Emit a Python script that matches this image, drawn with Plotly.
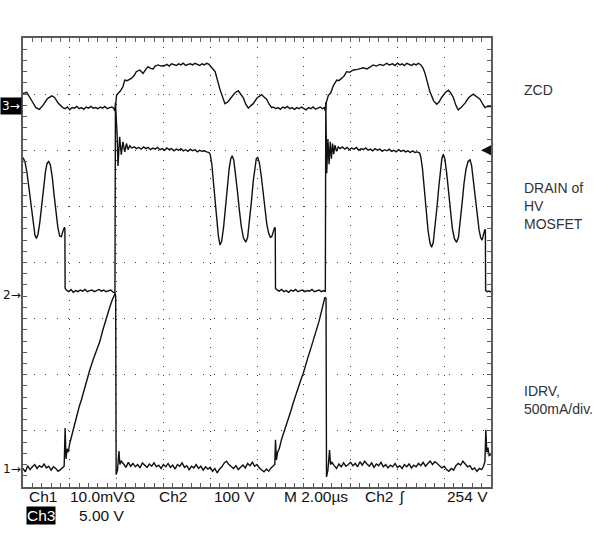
import plotly.graph_objects as go

# ---------------- data (time in microseconds, amplitude in screen divisions) -------------
zcd = [
    (0.00, 7.01), (0.16, 7.03), (0.35, 6.90), (0.55, 6.76), (0.70, 6.73), (0.85, 6.80), (1.05, 6.92),
    (1.23, 6.97), (1.35, 6.94), (1.50, 6.84), (1.70, 6.76),
    (1.80, 6.74), (1.90, 6.77), (2.00, 6.72), (2.10, 6.76), (2.20, 6.75), (2.30, 6.78), (2.40, 6.74),
    (2.50, 6.76), (2.60, 6.73), (2.70, 6.77), (2.80, 6.75), (2.90, 6.78), (3.00, 6.75), (3.10, 6.76),
    (3.20, 6.74), (3.30, 6.77), (3.40, 6.75), (3.50, 6.78), (3.60, 6.74), (3.70, 6.76), (3.80, 6.77),
    (3.88, 6.75), (3.92, 6.70), (3.96, 6.82), (4.00, 6.98), (4.06, 7.01), (4.15, 7.05), (4.27, 7.13),
    (4.35, 7.25), (4.45, 7.24), (4.63, 7.28), (4.75, 7.33), (4.84, 7.40), (4.99, 7.43), (5.13, 7.37),
    (5.25, 7.44), (5.34, 7.49), (5.45, 7.46), (5.56, 7.45), (5.65, 7.50), (5.77, 7.52), (5.90, 7.50),
    (6.06, 7.51), (6.15, 7.53), (6.25, 7.50), (6.35, 7.54), (6.45, 7.52), (6.55, 7.51), (6.65, 7.54),
    (6.75, 7.52), (6.85, 7.55), (6.95, 7.51), (7.05, 7.53), (7.15, 7.54), (7.25, 7.52), (7.35, 7.55),
    (7.45, 7.53), (7.55, 7.51), (7.65, 7.54), (7.75, 7.52), (7.85, 7.55), (7.95, 7.53),
    (8.05, 7.48), (8.21, 7.40), (8.42, 7.08), (8.55, 6.92), (8.63, 6.83), (8.75, 6.86), (8.85, 6.91),
    (9.05, 7.02), (9.20, 7.06), (9.30, 7.00), (9.41, 6.94), (9.52, 6.82), (9.63, 6.75), (9.75, 6.80),
    (9.84, 6.83), (10.00, 6.93), (10.20, 6.99), (10.30, 6.95), (10.41, 6.91), (10.52, 6.82), (10.63, 6.76),
    (10.70, 6.77), (10.80, 6.74), (10.90, 6.76), (11.00, 6.73), (11.10, 6.77), (11.20, 6.75), (11.30, 6.78),
    (11.40, 6.74), (11.50, 6.76), (11.60, 6.73), (11.70, 6.76), (11.80, 6.74), (11.90, 6.77), (12.00, 6.75),
    (12.10, 6.72), (12.20, 6.76), (12.30, 6.74), (12.40, 6.77), (12.50, 6.73), (12.60, 6.75), (12.70, 6.77),
    (12.80, 6.74), (12.88, 6.76), (12.92, 6.70), (12.96, 6.85), (13.05, 6.98), (13.15, 7.02), (13.26, 7.15),
    (13.41, 7.25), (13.50, 7.24), (13.62, 7.28), (13.72, 7.32), (13.83, 7.40), (13.95, 7.39), (14.12, 7.43),
    (14.30, 7.44), (14.54, 7.47), (14.70, 7.45), (14.97, 7.52), (15.10, 7.50), (15.25, 7.53), (15.40, 7.51),
    (15.54, 7.55), (15.65, 7.52), (15.80, 7.54), (15.90, 7.51), (16.00, 7.55), (16.11, 7.52), (16.20, 7.54),
    (16.30, 7.51), (16.40, 7.55), (16.50, 7.53), (16.60, 7.51), (16.70, 7.54), (16.80, 7.52), (16.90, 7.55),
    (17.00, 7.52), (17.10, 7.46), (17.18, 7.37), (17.39, 7.04), (17.55, 6.88), (17.68, 6.82), (17.78, 6.86),
    (17.89, 6.94), (18.05, 7.03), (18.18, 7.07), (18.28, 7.02), (18.39, 6.94), (18.50, 6.80), (18.60, 6.72),
    (18.72, 6.76), (18.89, 6.84), (19.05, 6.94), (19.24, 7.00), (19.35, 6.96), (19.53, 6.91), (19.65, 6.82),
    (19.74, 6.76), (19.85, 6.78), (19.96, 6.77), (20.00, 6.78),
]

drain = [
    (0.00, 5.87), (0.08, 5.80), (0.17, 5.60), (0.26, 5.30), (0.35, 4.98), (0.44, 4.66), (0.51, 4.49),
    (0.57, 4.43), (0.64, 4.50), (0.72, 4.72), (0.80, 5.02), (0.88, 5.35), (0.96, 5.62), (1.03, 5.77),
    (1.10, 5.80), (1.17, 5.74), (1.25, 5.52), (1.33, 5.20), (1.41, 4.88), (1.49, 4.62), (1.57, 4.47),
    (1.64, 4.46), (1.70, 4.55), (1.77, 4.63), (1.79, 4.60), (1.80, 3.54),
    (1.85, 3.51), (1.95, 3.48), (2.05, 3.52), (2.15, 3.47), (2.25, 3.50), (2.35, 3.48), (2.45, 3.51),
    (2.55, 3.49), (2.65, 3.52), (2.75, 3.48), (2.85, 3.50), (2.95, 3.51), (3.05, 3.48), (3.15, 3.50),
    (3.25, 3.52), (3.35, 3.49), (3.45, 3.51), (3.55, 3.48), (3.65, 3.50), (3.75, 3.51), (3.85, 3.47),
    (3.93, 3.46), (3.95, 6.85), (4.02, 6.30), (4.06, 5.72), (4.13, 6.24), (4.20, 5.92), (4.27, 6.15),
    (4.35, 5.97), (4.42, 6.12), (4.49, 6.01), (4.56, 6.08),
    (4.65, 6.04), (4.75, 6.06), (4.85, 6.03), (4.95, 6.05), (5.05, 6.02), (5.15, 6.06), (5.25, 6.03),
    (5.35, 6.05), (5.45, 6.01), (5.55, 6.04), (5.65, 6.02), (5.75, 6.05), (5.85, 6.01), (5.95, 6.03),
    (6.05, 6.00), (6.15, 6.04), (6.25, 6.01), (6.35, 6.03), (6.45, 5.99), (6.55, 6.02), (6.65, 6.00),
    (6.75, 6.03), (6.85, 5.99), (6.95, 6.01), (7.05, 5.98), (7.15, 6.02), (7.25, 5.99), (7.35, 6.01),
    (7.45, 5.97), (7.55, 6.00), (7.65, 5.98), (7.75, 5.99), (7.85, 5.97), (7.95, 5.96),
    (8.00, 5.93), (8.07, 5.75), (8.14, 5.42), (8.21, 5.05), (8.28, 4.72), (8.35, 4.47), (8.42, 4.31),
    (8.49, 4.38), (8.57, 4.62), (8.65, 4.98), (8.73, 5.35), (8.81, 5.67), (8.88, 5.85), (8.94, 5.90),
    (9.01, 5.82), (9.09, 5.58), (9.17, 5.25), (9.25, 4.92), (9.33, 4.64), (9.42, 4.44), (9.52, 4.36),
    (9.60, 4.45), (9.68, 4.72), (9.76, 5.08), (9.84, 5.45), (9.91, 5.72), (9.97, 5.85), (10.03, 5.87),
    (10.10, 5.78), (10.18, 5.55), (10.26, 5.22), (10.34, 4.92), (10.42, 4.68), (10.50, 4.52), (10.57, 4.45),
    (10.63, 4.46), (10.70, 4.56), (10.76, 4.63), (10.78, 4.60), (10.79, 3.54),
    (10.85, 3.51), (10.95, 3.49), (11.05, 3.52), (11.15, 3.48), (11.25, 3.50), (11.35, 3.47), (11.45, 3.51),
    (11.55, 3.49), (11.65, 3.52), (11.75, 3.48), (11.85, 3.50), (11.95, 3.51), (12.05, 3.48), (12.15, 3.50),
    (12.25, 3.49), (12.35, 3.52), (12.45, 3.48), (12.55, 3.50), (12.65, 3.51), (12.75, 3.48), (12.85, 3.50),
    (12.92, 3.48), (12.94, 6.85), (12.98, 5.59), (13.03, 6.20), (13.08, 5.75), (13.13, 6.15), (13.18, 5.85),
    (13.23, 6.12), (13.28, 5.93), (13.33, 6.09), (13.40, 5.98), (13.47, 6.06),
    (13.55, 6.03), (13.65, 6.06), (13.75, 6.02), (13.85, 6.05), (13.95, 6.01), (14.05, 6.04), (14.15, 6.02),
    (14.25, 6.05), (14.35, 6.00), (14.45, 6.03), (14.55, 6.01), (14.65, 6.04), (14.75, 6.00), (14.85, 6.02),
    (14.95, 5.99), (15.05, 6.03), (15.15, 6.00), (15.25, 6.02), (15.35, 5.98), (15.45, 6.01), (15.55, 5.99),
    (15.65, 6.02), (15.75, 5.98), (15.85, 6.00), (15.95, 5.97), (16.05, 6.01), (16.15, 5.98), (16.25, 6.00),
    (16.35, 5.97), (16.45, 5.99), (16.55, 5.96), (16.65, 5.99), (16.75, 5.96), (16.85, 5.97), (16.95, 5.95),
    (17.00, 5.88), (17.07, 5.68), (17.15, 5.30), (17.23, 4.90), (17.31, 4.57), (17.39, 4.35), (17.46, 4.27),
    (17.53, 4.35), (17.61, 4.62), (17.69, 4.98), (17.77, 5.35), (17.84, 5.65), (17.90, 5.85), (17.96, 5.93),
    (18.03, 5.84), (18.11, 5.58), (18.19, 5.22), (18.27, 4.88), (18.35, 4.60), (18.44, 4.42), (18.53, 4.36),
    (18.61, 4.45), (18.69, 4.72), (18.77, 5.08), (18.85, 5.42), (18.93, 5.66), (19.02, 5.80), (19.10, 5.83),
    (19.17, 5.73), (19.25, 5.45), (19.33, 5.12), (19.41, 4.82), (19.49, 4.58), (19.56, 4.44), (19.62, 4.40),
    (19.68, 4.50), (19.74, 4.59), (19.76, 4.57), (19.77, 3.50), (19.85, 3.48), (19.93, 3.49), (20.00, 3.47),
]

idrv = [
    (0.00, 0.33), (0.10, 0.27), (0.20, 0.38), (0.30, 0.31), (0.40, 0.36), (0.50, 0.40), (0.60, 0.33),
    (0.70, 0.38), (0.80, 0.35), (0.90, 0.41), (1.00, 0.34), (1.10, 0.37), (1.20, 0.30), (1.30, 0.36),
    (1.40, 0.33), (1.50, 0.28), (1.60, 0.31), (1.70, 0.34), (1.76, 0.37),
    (1.80, 1.05), (1.84, 0.50), (1.88, 0.68), (1.93, 0.62), (2.00, 0.78), (2.10, 0.95), (2.20, 1.12),
    (2.30, 1.27), (2.40, 1.43), (2.50, 1.56), (2.60, 1.72), (2.72, 1.88), (2.85, 2.08), (3.00, 2.27),
    (3.15, 2.45), (3.29, 2.60), (3.40, 2.78), (3.50, 2.93), (3.60, 3.06), (3.72, 3.22), (3.82, 3.34),
    (3.90, 3.43), (3.94, 3.45), (3.96, 3.40), (3.98, 0.22), (4.04, 0.30), (4.10, 0.64), (4.14, 0.40),
    (4.20, 0.46), (4.30, 0.41), (4.40, 0.35), (4.50, 0.44), (4.60, 0.37), (4.70, 0.42), (4.80, 0.36),
    (4.90, 0.40), (5.00, 0.34), (5.10, 0.43), (5.20, 0.38), (5.30, 0.35), (5.40, 0.41), (5.50, 0.37),
    (5.60, 0.43), (5.70, 0.36), (5.80, 0.39), (5.90, 0.33), (6.00, 0.40), (6.10, 0.36), (6.20, 0.42),
    (6.30, 0.35), (6.40, 0.39), (6.50, 0.32), (6.60, 0.40), (6.70, 0.37), (6.80, 0.43), (6.90, 0.35),
    (7.00, 0.38), (7.10, 0.31), (7.20, 0.37), (7.30, 0.34), (7.40, 0.40), (7.50, 0.33), (7.60, 0.37),
    (7.70, 0.30), (7.80, 0.36), (7.90, 0.32), (8.00, 0.35), (8.10, 0.28), (8.20, 0.33), (8.30, 0.25),
    (8.40, 0.32), (8.50, 0.36), (8.60, 0.43), (8.70, 0.46), (8.80, 0.40), (8.90, 0.37), (9.00, 0.33),
    (9.10, 0.38), (9.20, 0.31), (9.30, 0.35), (9.40, 0.39), (9.50, 0.34), (9.60, 0.42), (9.70, 0.38),
    (9.80, 0.44), (9.90, 0.37), (10.00, 0.40), (10.10, 0.34), (10.20, 0.31), (10.30, 0.27), (10.40, 0.32),
    (10.50, 0.28), (10.60, 0.34), (10.70, 0.37), (10.76, 0.40),
    (10.79, 0.84), (10.83, 0.48), (10.88, 0.62), (10.95, 0.68), (11.05, 0.85), (11.15, 0.97), (11.25, 1.10),
    (11.34, 1.19), (11.45, 1.36), (11.55, 1.50), (11.65, 1.64), (11.75, 1.74), (11.85, 1.88), (11.98, 2.03),
    (12.10, 2.22), (12.20, 2.34), (12.30, 2.47), (12.40, 2.60), (12.55, 2.80), (12.65, 2.95), (12.75, 3.12),
    (12.85, 3.30), (12.90, 3.38), (12.95, 3.36), (12.97, 0.18), (13.03, 0.30), (13.10, 0.66), (13.14, 0.40),
    (13.20, 0.44), (13.30, 0.38), (13.40, 0.33), (13.50, 0.41), (13.60, 0.36), (13.70, 0.43), (13.80, 0.37),
    (13.90, 0.40), (14.00, 0.44), (14.10, 0.38), (14.20, 0.42), (14.30, 0.36), (14.40, 0.45), (14.50, 0.39),
    (14.60, 0.46), (14.70, 0.41), (14.80, 0.37), (14.90, 0.43), (15.00, 0.35), (15.10, 0.41), (15.20, 0.38),
    (15.30, 0.44), (15.40, 0.36), (15.50, 0.40), (15.60, 0.34), (15.70, 0.39), (15.80, 0.36), (15.90, 0.42),
    (16.00, 0.35), (16.10, 0.38), (16.20, 0.33), (16.30, 0.40), (16.40, 0.36), (16.50, 0.41), (16.60, 0.34),
    (16.70, 0.39), (16.80, 0.36), (16.90, 0.42), (17.00, 0.38), (17.10, 0.44), (17.20, 0.37), (17.30, 0.42),
    (17.40, 0.46), (17.50, 0.40), (17.60, 0.45), (17.70, 0.42), (17.80, 0.38), (17.90, 0.34), (18.00, 0.37),
    (18.10, 0.31), (18.20, 0.28), (18.30, 0.33), (18.40, 0.30), (18.50, 0.38), (18.60, 0.42), (18.70, 0.39),
    (18.80, 0.46), (18.90, 0.41), (19.00, 0.36), (19.10, 0.38), (19.20, 0.31), (19.30, 0.34), (19.40, 0.28),
    (19.50, 0.33), (19.60, 0.31), (19.68, 0.37), (19.74, 0.45), (19.78, 1.02), (19.82, 0.62), (19.87, 0.70),
    (19.92, 0.56), (20.00, 0.58),
]

ground_levels = {"3": 6.78, "2": 3.42, "1": 0.32}   # channel reference markers (div)
trigger_level = 6.00                                  # trigger marker (div)

right_labels = [("ZCD", 7.07), ("DRAIN of<br>HV<br>MOSFET", 5.00), ("IDRV,<br>500mA/div.", 1.55)]
status_row1 = [("Ch1", 27), ("10.0mVΩ", 68), ("Ch2", 157), ("100 V", 212),
               ("M 2.00µs", 282), ("Ch2", 363), ("ʃ", 397), ("254 V", 445)]
status_row2 = [("5.00 V", 77)]

# ---------------- figure ----------------
W, H = 599, 539
L, R, T, B = 23, 108, 38, 52
PW, PH = W - L - R, H - T - B

def px_x(px):
    return (px - L) / PW

def px_y(py):
    return (H - B - py) / PH

FONT = "Liberation Sans, Arial, Helvetica, sans-serif"
MARK_FONT = "DejaVu Sans, Liberation Sans, sans-serif"

fig = go.Figure()
for name, series in (("ZCD", zcd), ("DRAIN", drain), ("IDRV", idrv)):
    fig.add_trace(go.Scatter(
        x=[p[0] for p in series], y=[p[1] for p in series], mode="lines",
        line=dict(color="#111111", width=1.4), name=name, showlegend=False, hoverinfo="skip"))

axis_common = dict(showline=True, linecolor="#5a5a5a", linewidth=2, mirror="ticks",
                   ticks="inside", ticklen=4, tickcolor="#5a5a5a", tickwidth=1,
                   showticklabels=False, zeroline=False, gridcolor="#3a3a3a", gridwidth=1)

fig.update_xaxes(range=[0, 20], dtick=2, tick0=0, griddash="1px,8.36px",
                 minor=dict(dtick=0.4, ticks="inside", ticklen=4, tickcolor="#5a5a5a", showgrid=False),
                 **axis_common)
fig.update_yaxes(range=[0, 8], dtick=1, tick0=0, griddash="1px,10.22px",
                 minor=dict(dtick=0.2, ticks="inside", ticklen=4, tickcolor="#5a5a5a", showgrid=False),
                 **axis_common)

ann = []
for ch, lvl in ground_levels.items():
    inverse = (ch == "3")
    ann.append(dict(x=0, xref="paper", y=lvl, yref="y", xanchor="right", yanchor="middle",
                    text=ch + "→", showarrow=False,
                    bgcolor="#000000" if inverse else None, borderpad=1 if inverse else 0,
                    font=dict(family=MARK_FONT, size=12, color="#ffffff" if inverse else "#111111"),
                    xshift=-1))

ann.append(dict(x=px_x(481), xref="paper", y=trigger_level, yref="y", ax=10, ay=0,
                text="", showarrow=True, arrowhead=2, arrowsize=1.0, arrowwidth=2, arrowcolor="#111111"))

for txt, yv in right_labels:
    ann.append(dict(x=px_x(522), xref="paper", y=yv, yref="y", xanchor="left", yanchor="middle",
                    text=txt, align="left", showarrow=False,
                    font=dict(family=FONT, size=14, color="#333333")))

for txt, xp in status_row1:
    ann.append(dict(x=px_x(xp), xref="paper", y=px_y(496), yref="paper", xanchor="left",
                    yanchor="middle", text=txt, showarrow=False,
                    font=dict(family=FONT, size=15.5, color="#111111")))
ann.append(dict(x=px_x(26), xref="paper", y=px_y(515), yref="paper", xanchor="left", yanchor="middle",
                text="Ch3", showarrow=False, bgcolor="#000000", borderpad=0,
                font=dict(family=FONT, size=15.5, color="#ffffff")))
for txt, xp in status_row2:
    ann.append(dict(x=px_x(xp), xref="paper", y=px_y(515), yref="paper", xanchor="left",
                    yanchor="middle", text=txt, showarrow=False,
                    font=dict(family=FONT, size=15.5, color="#111111")))

fig.update_layout(width=W, height=H, margin=dict(l=L, r=R, t=T, b=B),
                  paper_bgcolor="#ffffff", plot_bgcolor="#ffffff", annotations=ann)

# remove the browser's default 8px page margin so the figure fills the window exactly
fig.write_html("out.html", config={"displayModeBar": False},
               post_script="document.body.style.margin='0px';")
